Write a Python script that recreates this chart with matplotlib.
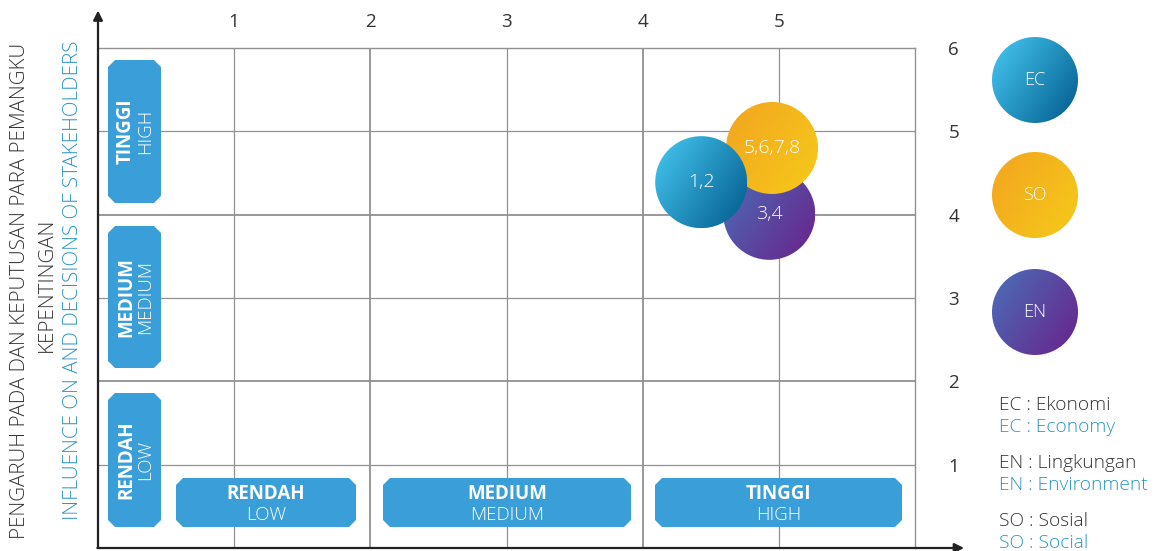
import numpy as np
import matplotlib
matplotlib.use('Agg')
import matplotlib.pyplot as plt
from matplotlib.patches import Ellipse, Polygon
from matplotlib.colors import LinearSegmentedColormap

plt.rcParams['font.family'] = ['Open Sans', 'DejaVu Sans']

# data
x_ticks = [1, 2, 3, 4, 5]
y_ticks = [1, 2, 3, 4, 5, 6]
bubble_codes = ['EN', 'SO', 'EC']
bubble_labels = ['3,4', '5,6,7,8', '1,2']
bubble_x = [4.93, 4.95, 4.43]
bubble_y = [4.01, 4.80, 4.39]
level_id = ['RENDAH', 'MEDIUM', 'TINGGI']
level_en = ['LOW', 'MEDIUM', 'HIGH']
legend_codes = ['EC', 'SO', 'EN']
legend_id = ['EC : Ekonomi', 'EN : Lingkungan', 'SO : Sosial']
legend_en = ['EC : Economy', 'EN : Environment', 'SO : Social']

grad = {
    'EC': ('#48CAF3', '#005A8C'),
    'SO': ('#F2A41F', '#F6CA1A'),
    'EN': ('#4A70B8', '#6A218A'),
}
BLUE = '#3A9FD9'
TXT_BLUE = '#2B95C6'
DARK = '#333333'
GRID = '#919191'

W, H = 1159, 551
fig = plt.figure(figsize=(W / 100, H / 100), dpi=100)

# main axes: grid box from px x 98..915, y 48..548
ax = fig.add_axes([98 / W, (H - 548) / H, 817 / W, 500 / H])
ax.set_xlim(0, 6)
ax.set_ylim(0, 6)
ax.set_facecolor('white')
px_x = 817 / 6
px_y = 500 / 6


def grad_circle(a, cx, cy, rx, ry, c0, c1, z):
    cmap = LinearSegmentedColormap.from_list('g', [c0, c1])
    u = np.linspace(0, 1, 200)
    X, Y = np.meshgrid(u, u)
    G = (X * 0.6 + Y * 0.4)
    circ = Ellipse((cx, cy), 2 * rx, 2 * ry, facecolor='none', edgecolor='none')
    a.add_patch(circ)
    im = a.imshow(G, cmap=cmap, extent=[cx - rx, cx + rx, cy - ry, cy + ry],
                  origin='upper', aspect='auto', zorder=z, interpolation='bilinear')
    im.set_clip_path(circ)
    return im


# grid lines
for v in range(1, 6):
    lw = 1.3 if v in (2, 4) else 0.9
    ax.axvline(v, color=GRID, lw=lw, zorder=1)
    ax.axhline(v, color=GRID, lw=lw, zorder=1)
for s in ['top', 'right']:
    ax.spines[s].set_color(GRID)
    ax.spines[s].set_linewidth(1.0)
for s in ['left', 'bottom']:
    ax.spines[s].set_visible(False)

# axis arrows
ax.annotate('', xy=(0, 6.45), xytext=(0, 0), annotation_clip=False,
            arrowprops=dict(arrowstyle='-|>', color='#222222', lw=1.6, mutation_scale=14,
                            shrinkA=0, shrinkB=0))
ax.annotate('', xy=(6.36, 0), xytext=(-0.005, 0), annotation_clip=False,
            arrowprops=dict(arrowstyle='-|>', color='#222222', lw=1.6, mutation_scale=14,
                            shrinkA=0, shrinkB=0))

# ticks
ax.set_xticks(x_ticks)
ax.set_xticklabels([str(v) for v in x_ticks])
ax.xaxis.tick_top()
ax.set_yticks(y_ticks)
ax.set_yticklabels([str(v) for v in y_ticks])
ax.yaxis.tick_right()
ax.tick_params(axis='x', length=0, pad=12, labelsize=13.5, labelcolor=DARK)
ax.tick_params(axis='y', length=0, pad=24, labelsize=13.5, labelcolor=DARK)

# bubbles
r = 46
for code, lab, bx, by, z in zip(bubble_codes, bubble_labels, bubble_x, bubble_y, [3, 4, 5]):
    c0, c1 = grad[code]
    grad_circle(ax, bx, by, r / px_x, r / px_y, c0, c1, z)
    ax.text(bx, by, lab, color='white', ha='center', va='center', fontsize=14,
            fontweight='light', zorder=z + 0.5)
ax.set_xlim(0, 6)
ax.set_ylim(0, 6)

# overlay in pixel coordinates (origin bottom-left)
ov = fig.add_axes([0, 0, 1, 1], zorder=5)
ov.set_xlim(0, W)
ov.set_ylim(0, H)
ov.axis('off')
ov.patch.set_alpha(0)


def chamfer_box(x0, y0, x1, y1, c=7):
    # y in pixel rows from top
    pts = [(x0 + c, y0), (x1 - c, y0), (x1, y0 + c), (x1, y1 - c),
           (x1 - c, y1), (x0 + c, y1), (x0, y1 - c), (x0, y0 + c)]
    pts = [(px, H - py) for px, py in pts]
    ov.add_patch(Polygon(pts, closed=True, facecolor=BLUE, edgecolor='none'))


# left category boxes (bottom to top: RENDAH, MEDIUM, TINGGI)
left_boxes = [(393, 527), (226, 368), (60, 203)]
for (y0, y1), lid, len_ in zip(left_boxes, level_id, level_en):
    chamfer_box(108, y0, 161, y1)
    yc = H - (y0 + y1) / 2
    ov.text(126, yc, lid, rotation=90, ha='center', va='center', color='white',
            fontsize=13.5, fontweight='bold')
    ov.text(145, yc, len_, rotation=90, ha='center', va='center', color='white',
            fontsize=13.5, fontweight='light')

# bottom category boxes
bottom_boxes = [(176, 356), (383, 631), (655, 902)]
for (x0, x1), lid, len_ in zip(bottom_boxes, level_id, level_en):
    chamfer_box(x0, 478, x1, 527)
    xc = (x0 + x1) / 2
    ov.text(xc, H - 494, lid, ha='center', va='center', color='white',
            fontsize=13.5, fontweight='bold')
    ov.text(xc, H - 515, len_, ha='center', va='center', color='white',
            fontsize=13.5, fontweight='light')

# y axis titles
ov.text(20, H - 291, 'PENGARUH PADA DAN KEPUTUSAN PARA PEMANGKU', rotation=90,
        ha='center', va='center', color=DARK, fontsize=14.8, fontweight='light')
ov.text(47, H - 285, 'KEPENTINGAN', rotation=90,
        ha='center', va='center', color=DARK, fontsize=14.8, fontweight='light')
ov.text(73, H - 280, 'INFLUENCE ON AND DECISIONS OF STAKEHOLDERS', rotation=90,
        ha='center', va='center', color=TXT_BLUE, fontsize=14.8, fontweight='light')

# legend circles
leg_y = [80, 195, 312]
for code, ly in zip(legend_codes, leg_y):
    c0, c1 = grad[code]
    grad_circle(ov, 1035, H - ly, 43, 43, c0, c1, 3)
    ov.text(1035, H - ly, code, ha='center', va='center', color='white',
            fontsize=13, fontweight='light', zorder=4)
ov.set_xlim(0, W)
ov.set_ylim(0, H)

# legend text
leg_rows = [405, 463, 521]
for t1, t2, ly in zip(legend_id, legend_en, leg_rows):
    ov.text(999, H - ly, t1, ha='left', va='center', color=DARK, fontsize=13.8,
            fontweight='light')
    ov.text(999, H - ly - 22, t2, ha='left', va='center', color=TXT_BLUE, fontsize=13.8,
            fontweight='light')

fig.savefig('out.png', dpi=100)
